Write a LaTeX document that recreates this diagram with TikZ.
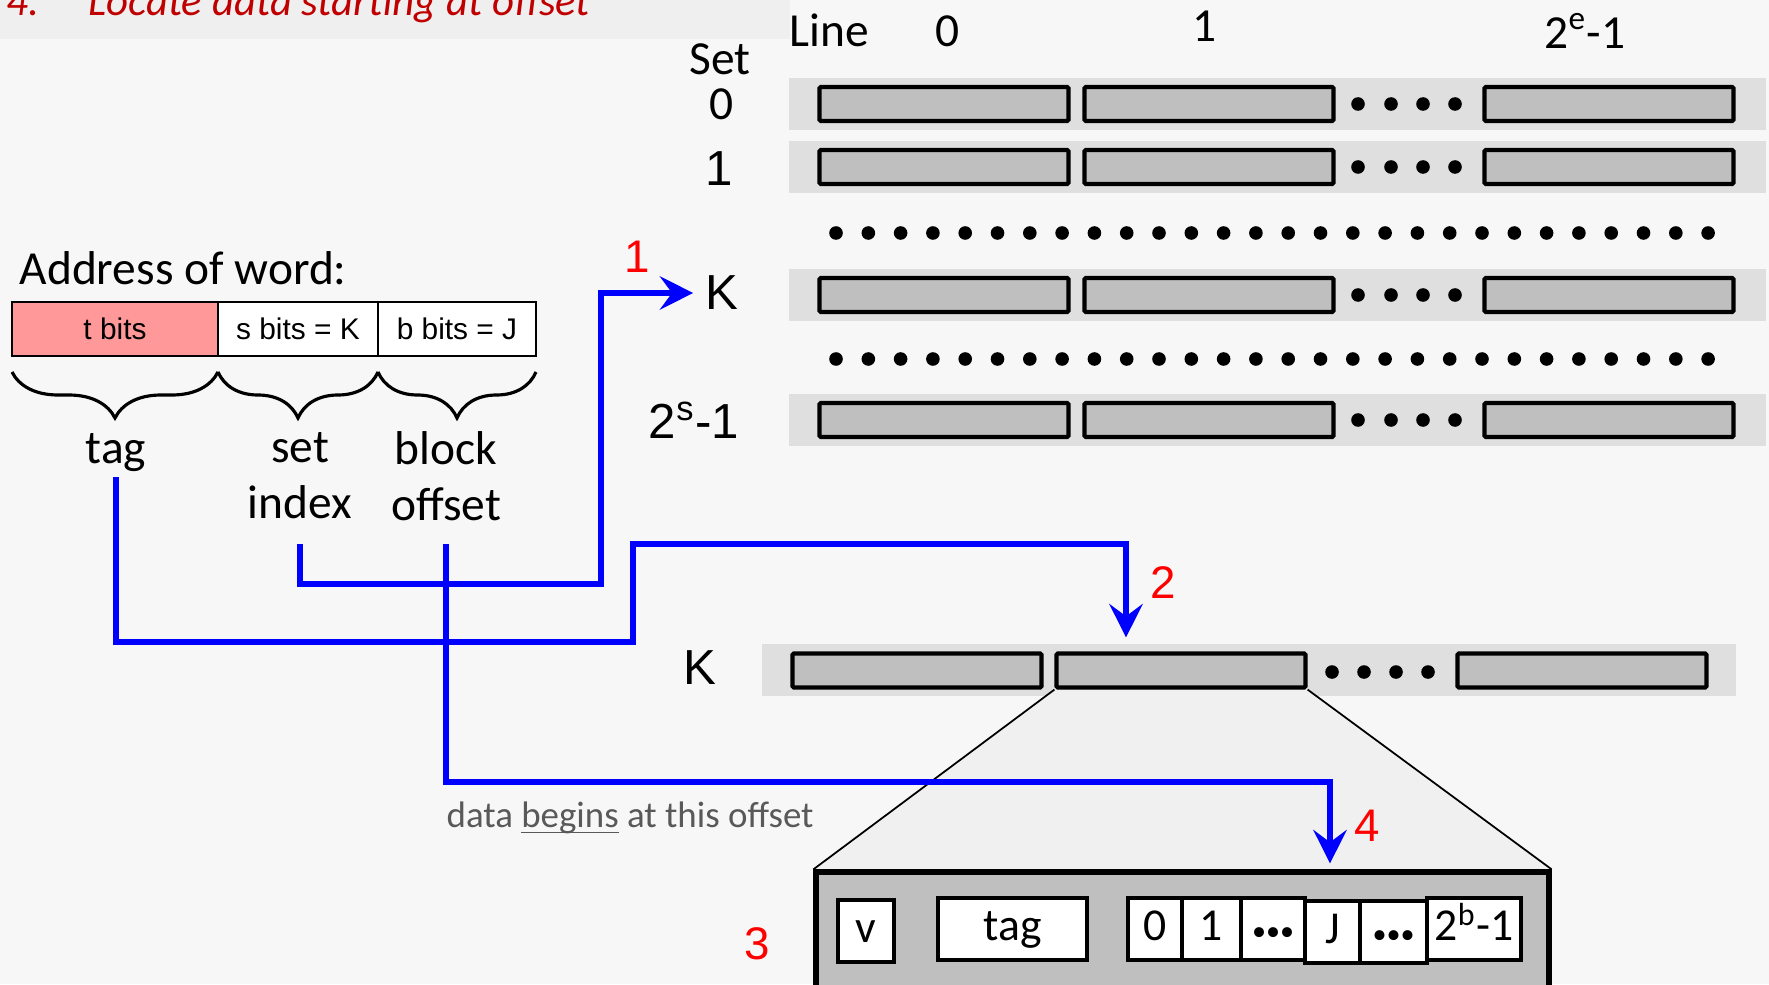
\documentclass[tikz,border=0pt]{standalone}
\usepackage{fontspec}
\setmainfont{Carlito}
\newfontfamily\arial{Liberation Sans}
\usetikzlibrary{positioning,arrows.meta,decorations.pathreplacing}
\pgfdeclarelayer{back}
\pgfsetlayers{back,main}
\definecolor{bgc}{HTML}{F7F7F7}
\definecolor{titlebg}{HTML}{EFEFEF}
\definecolor{titlec}{HTML}{C00000}
\definecolor{bandc}{HTML}{DFDFDF}
\definecolor{cellc}{HTML}{BFBFBF}
\definecolor{zoomc}{HTML}{F0F0F0}
\definecolor{tagc}{HTML}{FF9999}
\definecolor{notec}{HTML}{595959}
\newcommand{\bul}{{\fontsize{8}{10}\selectfont\textbullet\textbullet\textbullet}}
\tikzset{
  band/.style={fill=bandc,minimum width=97.7mm,minimum height=5.2mm,inner sep=0},
  cell/.style={draw,fill=cellc,line width=1.2pt,rounded corners=0.4pt,minimum width=24.9mm,minimum height=3.4mm,inner sep=0},
  field/.style={draw,line width=0.6pt,minimum height=5.4mm,inner sep=0,outer sep=0,font=\arial\fontsize{8.5}{10}\selectfont},
  box/.style={draw,fill=white,line width=1.4pt,minimum height=6.2mm,inner sep=0,outer sep=0,text height=1.5ex,text depth=0.1ex,font=\fontsize{13}{15}\selectfont},
  lbl/.style={font=\fontsize{13.5}{16}\selectfont,align=center},
  albl/.style={font=\arial\fontsize{14}{16}\selectfont},
  num/.style={text=red,font=\arial\fontsize{13}{15}\selectfont},
  flow/.style={draw=blue,line width=1.6pt,-{Stealth[length=9.5pt,width=9.5pt,inset=3.5pt]}},
  brc/.style={decorate,decoration={brace,mirror,amplitude=4.6mm},line width=0.9pt},
}
\begin{document}
\begin{tikzpicture}[x=0.1mm,y=-0.1mm]
\useasboundingbox (0,0) rectangle (1769,984);
\node[anchor=base west,inner sep=0,text=titlec,font=\itshape\fontsize{12.2}{14}\selectfont] (title) at (6,16) {4.\hspace{14pt}Locate data starting at offset};
% cache: sets x lines
\node[lbl] (hline) at (829,30) {Line};
\node[lbl] (h0) at (948,31) {0};
\node[lbl] (h1) at (1204,26) {1};
\node[lbl] (hlast) at (1585,31) {2\textsuperscript{e}-1};
\node[lbl] (hset) at (720,59) {Set};
\node[lbl] (s0) at (722,104) {0};
\node[albl] (s1) at (719,169) {1};
\node[albl] (sK) at (722,293) {K};
\node[albl] (sS) at (694,420) {2\textsuperscript{s}-1};
\foreach \r/\y in {0/104,1/167,K/295,S/420}{
  \node[band] (b\r) at (1277,\y) {};
  \node[cell] (c\r-a) at (944,\y) {};
  \node[cell] (c\r-b) at (1209,\y) {};
  \node[cell] (c\r-c) at (1609,\y) {};
  \foreach \d in {1358,1391,1423,1455} \fill (\d,\y) circle[radius=0.68mm];
}
\foreach \i in {0,...,27}{
  \fill ({836+32.3*\i},233) circle[radius=0.68mm];
  \fill ({836+32.3*\i},359) circle[radius=0.68mm];
}
% address
\node[lbl,anchor=west,inner sep=0] (addr) at (19,268) {Address of word:};
\node[field,fill=tagc,minimum width=20.6mm] (tf) at (115,329) {t bits};
\node[field,fill=white,minimum width=16mm,right=0pt of tf] (sf) {s bits = K};
\node[field,fill=white,minimum width=15.8mm,right=0pt of sf] (bf) {b bits = J};
\foreach \f in {tf,sf,bf}
  \draw[brc] ([yshift=-1.6mm]\f.south west) -- ([yshift=-1.6mm]\f.south east);
\node[lbl] (tagl) at (116,453) {tag};
\node[lbl] (idxl) at (300,476) {set\\index};
\node[lbl] (offl) at (446,476) {block\\offset};
% set K, zoomed
\node[albl] (k2) at (700,668) {K};
\node[cell] (ka) at (917,670.5) {};
\node[cell] (kb) at (1181,670.5) {};
\node[cell] (kc) at (1582,670.5) {};
\foreach \d in {1332,1364,1396,1428} \fill (\d,672) circle[radius=0.68mm];
\node[draw,fill=cellc,line width=1.5pt,minimum width=73.3mm,minimum height=14mm,inner sep=0] (lbox) at (1182.5,942) {};
\node[box,minimum width=5.6mm] (vb) at (866,931) {v};
\node[box,minimum width=14.9mm] (tb) at (1012.5,929) {tag};
\node[box,minimum width=5.4mm] (d0) at (1155,929) {0};
\node[box,minimum width=5.9mm,right=0pt of d0] (d1) {1};
\node[box,minimum width=6.4mm,right=0pt of d1] (d2) {\bul};
\node[box,minimum width=5.5mm,right=0pt of d2,yshift=-0.3mm] (dJ) {J};
\node[box,minimum width=6.7mm,right=0pt of dJ] (d4) {\bul};
\node[box,minimum width=9.4mm,right=0pt of d4,yshift=0.3mm] (d5) {2\textsuperscript{b}-1};
\node[anchor=west,inner sep=0,text=notec,font=\fontsize{10.5}{12}\selectfont] (note) at (446,818) {data \underline{\smash{begins}} at this offset};
\begin{pgfonlayer}{back}
\fill[bgc] (0,0) rectangle (1769,984);
\fill[titlebg] (0,0) rectangle (790,39);
\node[band,minimum width=97.4mm] (kband) at (1249,670) {};
\fill[zoomc] (kb.south west) -- (lbox.north west) -- (lbox.north east) -- (kb.south east) -- cycle;
\draw[line width=0.5pt] (kb.south west) -- (lbox.north west) (kb.south east) -- (lbox.north east);
\end{pgfonlayer}
% lookup steps
\coordinate (tagout) at (116,477);
\coordinate (idxout) at (300,544);
\coordinate (offout) at (446,544);
\coordinate (bend1) at (601,584);
\coordinate (bend2) at (633,642);
\coordinate (bend3) at (1126,544);
\coordinate (bend4) at (1330,782);
\draw[flow] (idxout) |- (bend1) |- (sK.west);
\draw[flow] (tagout) |- (bend2) |- (bend3) -- ([xshift=-5.5mm,yshift=1.4mm]kb.north);
\draw[flow,shorten >=0.6mm] (offout) |- (bend4) -- (bend4 |- lbox.north);
\node[num] (n1) at (637,257) {1};
\node[num] (n2) at (1163,583) {2};
\node[num] (n3) at (757,944) {3};
\node[num] (n4) at (1367,826) {4};
\end{tikzpicture}
\end{document}
